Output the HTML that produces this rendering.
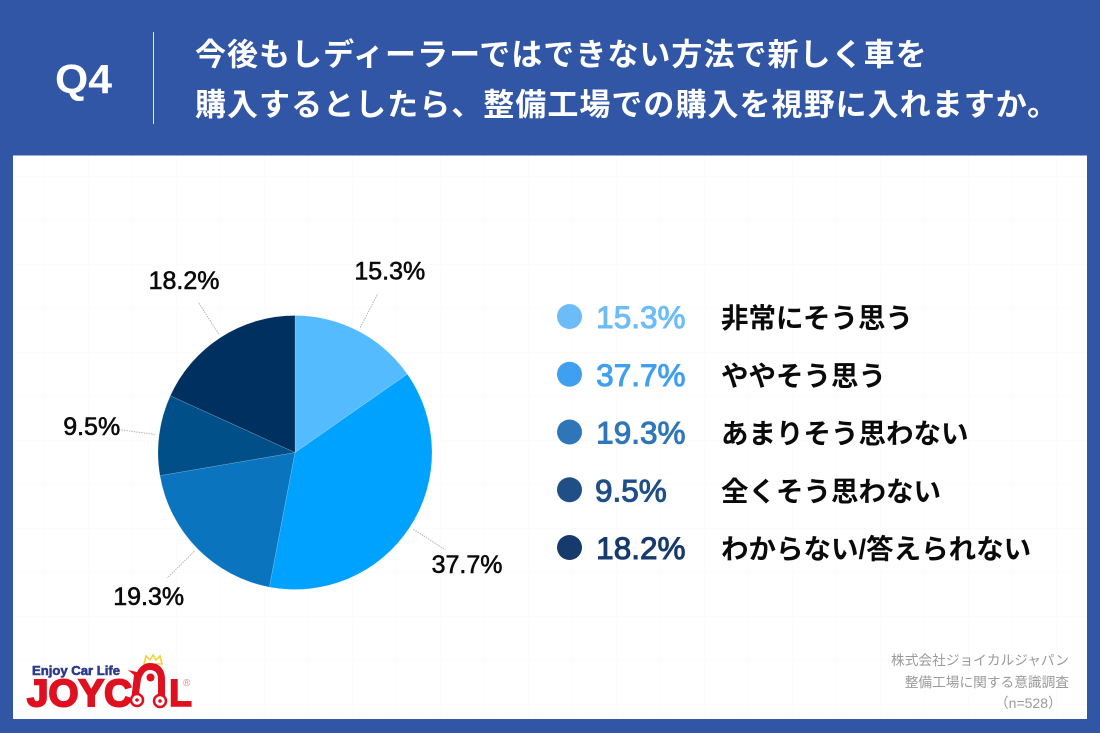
<!DOCTYPE html>
<html lang="ja">
<head>
<meta charset="utf-8">
<title>Q4 整備工場での購入</title>
<style>
html,body{margin:0;padding:0;width:1100px;height:733px;overflow:hidden;background:#3156a6;}
svg{display:block;}
text{font-family:"Liberation Sans","Noto Sans CJK JP",sans-serif;}
.jp{font-family:"Liberation Sans","Noto Sans CJK JP",sans-serif;font-weight:700;}
.title{fill:#fff;font-size:31px;letter-spacing:1.03px;dominant-baseline:central;}
</style>
</head>
<body>
<svg id="chart" width="1100" height="733" viewBox="0 0 1100 733" xmlns="http://www.w3.org/2000/svg">
  <defs>
    <pattern id="grid" width="44" height="44" patternUnits="userSpaceOnUse">
      <path d="M44 0H0V44" fill="none" stroke="#f9f9f9" stroke-width="1"/>
    </pattern>
  </defs>
  <rect x="0" y="0" width="1100" height="733" fill="#3156a6"/>
  <rect x="13" y="155.500" width="1074" height="563.500" fill="#fff"/>
  <rect x="13" y="155.500" width="1074" height="563.500" fill="url(#grid)"/>

  <text x="55" y="93" font-size="41" font-weight="700" fill="#fff" textLength="57" lengthAdjust="spacingAndGlyphs">Q4</text>
  <line x1="153.500" y1="32" x2="153.500" y2="124" stroke="#dfe6f3" stroke-width="1"/>
  <text class="jp title" x="195" y="55">今後もしディーラーではできない方法で新しく車を</text>
  <text class="jp title" x="195" y="105">購入するとしたら、整備工場での購入を視野に入れますか。</text>

  <g id="pie"></g>
  <g id="legend"></g>

  <g>
    <text x="32" y="675" font-size="13" font-weight="700" fill="#2d3a8c" stroke="#2d3a8c" stroke-width=".6" textLength="88" lengthAdjust="spacingAndGlyphs">Enjoy Car Life</text>
    <path d="M144 664l2-8 4 4 3-5 3 5 4-4 2 8z" fill="none" stroke="#f2d23c" stroke-width="1.600"/>
    <text x="27" y="706" font-size="38" font-weight="700" fill="#df1020" stroke="#df1020" stroke-width="2" textLength="105" lengthAdjust="spacingAndGlyphs">JOYC</text>
    <path d="M128 670l9 2c3-6 8-9 13-9 10 0 15 7 15 16v22h-7v-22c0-6-3-9-8-9s-7 4-9 9l-3 22h-7l3-26-6-5z" fill="#df1020"/>
    <circle cx="150.500" cy="677.500" r="4" fill="#df1020"/>
    <circle cx="137" cy="700" r="6" fill="#fff" stroke="#df1020" stroke-width="2.500"/>
    <circle cx="137" cy="700" r="1.800" fill="#df1020"/>
    <circle cx="160" cy="701" r="6" fill="#fff" stroke="#df1020" stroke-width="2.500"/>
    <circle cx="160" cy="701" r="1.800" fill="#df1020"/>
    <text x="169" y="706" font-size="38" font-weight="700" fill="#df1020" stroke="#df1020" stroke-width="1.500" textLength="23" lengthAdjust="spacingAndGlyphs">L</text>
    <text x="183" y="686" font-size="10" fill="#d98a8a">®</text>
  </g>

  <g fill="#9a9a9a" font-size="13.700" text-anchor="end">
    <text x="1069" y="665">株式会社ジョイカルジャパン</text>
    <text x="1069" y="687">整備工場に関する意識調査</text>
    <text x="1062" y="708" font-size="14">（n=528）</text>
  </g>
</svg>
<script>
const categories = ["非常にそう思う", "ややそう思う", "あまりそう思わない", "全くそう思わない", "わからない/答えられない"];
const values = [15.3, 37.7, 19.3, 9.5, 18.2];
const printedValues = ["15.3%", "37.7%", "19.3%", "9.5%", "18.2%"];
const sliceColors = ["#55bbff", "#00a2ff", "#0a74bf", "#004f88", "#00305f"];
const legendColors = ["#6cbcf7", "#3f9ff0", "#2f76b8", "#1f4f86", "#163a6c"];

const NS = "http://www.w3.org/2000/svg";
const cx = 295, cy = 452.5, radius = 137;
const total = values.reduce(function (a, b) { return a + b; }, 0);
function angleOf(v) { return v / total * Math.PI * 2; }
function pointAt(a, r) { return [cx + r * Math.sin(a), cy - r * Math.cos(a)]; }

const pie = document.getElementById("pie");
const legend = document.getElementById("legend");
let cumulative = 0;
values.forEach(function (v, i) {
  const a0 = angleOf(cumulative);
  const a1 = angleOf(cumulative + v);
  const mid = (a0 + a1) / 2;
  cumulative += v;
  const p0 = pointAt(a0, radius);
  const p1 = pointAt(a1, radius);
  const large = a1 - a0 > Math.PI ? 1 : 0;

  const slice = document.createElementNS(NS, "path");
  slice.setAttribute("d", "M" + cx + " " + cy + "L" + p0[0] + " " + p0[1] + "A" + radius + " " + radius + " 0 " + large + " 1 " + p1[0] + " " + p1[1] + "Z");
  slice.setAttribute("fill", sliceColors[i]);
  slice.setAttribute("stroke", "#ffffff");
  slice.setAttribute("stroke-opacity", "0.25");
  slice.setAttribute("stroke-width", "0.6");
  
  
  pie.appendChild(slice);

  const l0 = pointAt(mid, radius + 4);
  const l1 = pointAt(mid, radius + 42);
  const leader = document.createElementNS(NS, "line");
  leader.setAttribute("x1", l0[0]);
  leader.setAttribute("y1", l0[1]);
  leader.setAttribute("x2", l1[0]);
  leader.setAttribute("y2", l1[1]);
  leader.setAttribute("stroke", "#b5b5b5");
  leader.setAttribute("stroke-width", "1");
  leader.setAttribute("stroke-dasharray", "1.5 1");
  
  
  pie.appendChild(leader);

  const lp = pointAt(mid, radius + 68);
  const label = document.createElementNS(NS, "text");
  label.setAttribute("x", lp[0]);
  label.setAttribute("y", lp[1] + 9);
  label.setAttribute("text-anchor", "middle");
  label.setAttribute("font-size", "25");
  label.setAttribute("fill", "#0a0a0a");
  label.setAttribute("stroke", "#0a0a0a");
  label.setAttribute("stroke-width", "0.6");
  label.textContent = printedValues[i];
  
  
  pie.appendChild(label);

  const rowY = 317 + i * 57.75;
  const dot = document.createElementNS(NS, "circle");
  dot.setAttribute("cx", 569.5);
  dot.setAttribute("cy", rowY - 0.5);
  dot.setAttribute("r", 12.5);
  dot.setAttribute("fill", legendColors[i]);
  
  
  legend.appendChild(dot);

  const pct = document.createElementNS(NS, "text");
  pct.setAttribute("x", i === 3 ? 595 : 685.5);
  pct.setAttribute("y", rowY + 11);
  pct.setAttribute("text-anchor", i === 3 ? "start" : "end");
  pct.setAttribute("font-size", "31.500");
  pct.setAttribute("fill", legendColors[i]);
  pct.setAttribute("stroke", legendColors[i]);
  pct.setAttribute("stroke-width", "1");
  pct.textContent = printedValues[i];
  
  
  legend.appendChild(pct);

  const name = document.createElementNS(NS, "text");
  name.setAttribute("x", 721);
  name.setAttribute("y", rowY + 1);
  name.setAttribute("class", "jp");
  name.setAttribute("font-size", "27.500");
  name.setAttribute("dominant-baseline", "central");
  name.setAttribute("fill", "#0a0a0a");
  name.textContent = categories[i];
  
  
  legend.appendChild(name);
});
</script>
</body>
</html>
